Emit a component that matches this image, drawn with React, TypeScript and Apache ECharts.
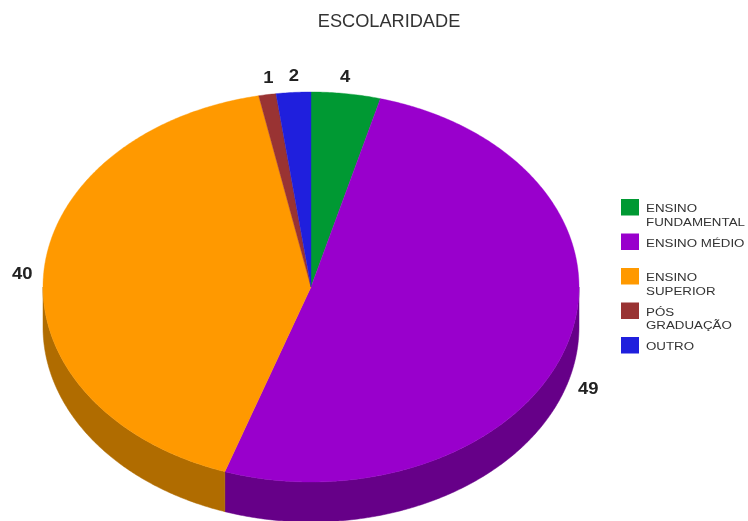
import React, { useEffect, useRef } from "react";
import * as echarts from "echarts";

const titleText = "ESCOLARIDADE";
const categories = ["ENSINO FUNDAMENTAL", "ENSINO MÉDIO", "ENSINO SUPERIOR", "PÓS GRADUAÇÃO", "OUTRO"];
const legendLabels = ["ENSINO\nFUNDAMENTAL", "ENSINO MÉDIO", "ENSINO\nSUPERIOR", "PÓS\nGRADUAÇÃO", "OUTRO"];
const values = [4, 49, 40, 1, 2];
const topColors = ["#009933", "#9900CC", "#FF9900", "#993333", "#1F1FDD"];
const sideColors = ["#006B24", "#660088", "#B06C00", "#6B2424", "#15159A"];

const CX = 311, CY = 287, RX = 268, RY = 195, DEPTH = 40;
const LABEL_RX = 279, LABEL_RX_TOP = 262, LABEL_RY = 212;
const LEG_X = 621, LEG_Y = 199, LEG_PITCH = 34.5;

const total = values.reduce((a, b) => a + b, 0);
const px = (deg: number, dy = 0): [number, number] => {
  const r = (deg * Math.PI) / 180;
  return [CX + RX * Math.sin(r), CY - RY * Math.cos(r) + dy];
};
const arc = (a: number, b: number, dy = 0) => {
  const pts: [number, number][] = [];
  const n = Math.max(2, Math.ceil((b - a) / 0.5));
  for (let i = 0; i <= n; i++) pts.push(px(a + ((b - a) * i) / n, dy));
  return pts;
};

function renderItem(params: any) {
  const i = params.dataIndex;
  const start = (values.slice(0, i).reduce((a, b) => a + b, 0) / total) * 360;
  const end = start + (values[i] / total) * 360;
  const mid = (start + end) / 2;
  const children: any[] = [];

  const s = Math.max(start, 90), e = Math.min(end, 270);
  if (e > s) {
    const upper = arc(s, e);
    const lower = arc(s, e, DEPTH).reverse();
    children.push({
      type: "polygon",
      z2: 1,
      shape: { points: [...upper, ...lower] },
      style: { fill: sideColors[i], stroke: sideColors[i], lineWidth: 0.5 },
    });
  }
  children.push({
    type: "polygon",
    z2: 2,
    shape: { points: [[CX, CY], ...arc(start, end)] },
    style: { fill: topColors[i], stroke: topColors[i], lineWidth: 0.4 },
  });

  const r = (mid * Math.PI) / 180;
  const sn = Math.sin(r), cs = Math.cos(r);
  const nearTop = Math.abs(sn) < 0.5;
  children.push({
    type: "text",
    z2: 3,
    x: CX + (nearTop ? LABEL_RX_TOP : LABEL_RX) * sn,
    y: CY - LABEL_RY * cs + (cs < 0 ? DEPTH : 0),
    scaleX: 1.12,
    style: {
      text: String(values[i]),
      fill: "#222222",
      font: "bold 16.5px 'Liberation Sans', Arial, sans-serif",
      align: nearTop ? "center" : sn > 0 ? "left" : "right",
      verticalAlign: "middle",
    },
  });

  const ly = LEG_Y + i * LEG_PITCH;
  children.push({
    type: "rect",
    z2: 3,
    shape: { x: LEG_X, y: ly, width: 18, height: 16.5 },
    style: { fill: topColors[i] },
  });
  children.push({
    type: "text",
    z2: 3,
    x: LEG_X + 25,
    y: ly + 3,
    scaleX: 1.14,
    style: {
      text: legendLabels[i],
      fill: "#333333",
      font: "11.7px 'Liberation Sans', Arial, sans-serif",
      lineHeight: 13.5,
      align: "left",
      verticalAlign: "top",
    },
  });
  return { type: "group", children };
}

export default function App() {
  const ref = useRef<HTMLDivElement>(null);
  useEffect(() => {
    document.body.style.margin = "0";
    const chart = echarts.init(ref.current!, null, { renderer: "svg" });
    chart.setOption({
      animation: false,
      backgroundColor: "#ffffff",
      title: {
        text: titleText,
        left: 384,
        top: 7,
        textAlign: "center",
        textStyle: { color: "#333333", fontSize: 18.2, fontWeight: "normal", fontFamily: "'Liberation Sans', Arial, sans-serif" },
      },
      series: [
        {
          type: "custom",
          coordinateSystem: "none",
          clip: false,
          renderItem,
          data: categories.map((name, i) => ({ name, value: values[i] })),
        },
      ],
    });
    return () => chart.dispose();
  }, []);
  return <div ref={ref} style={{ width: 748, height: 521, filter: "blur(0.5px)" }} />;
}
